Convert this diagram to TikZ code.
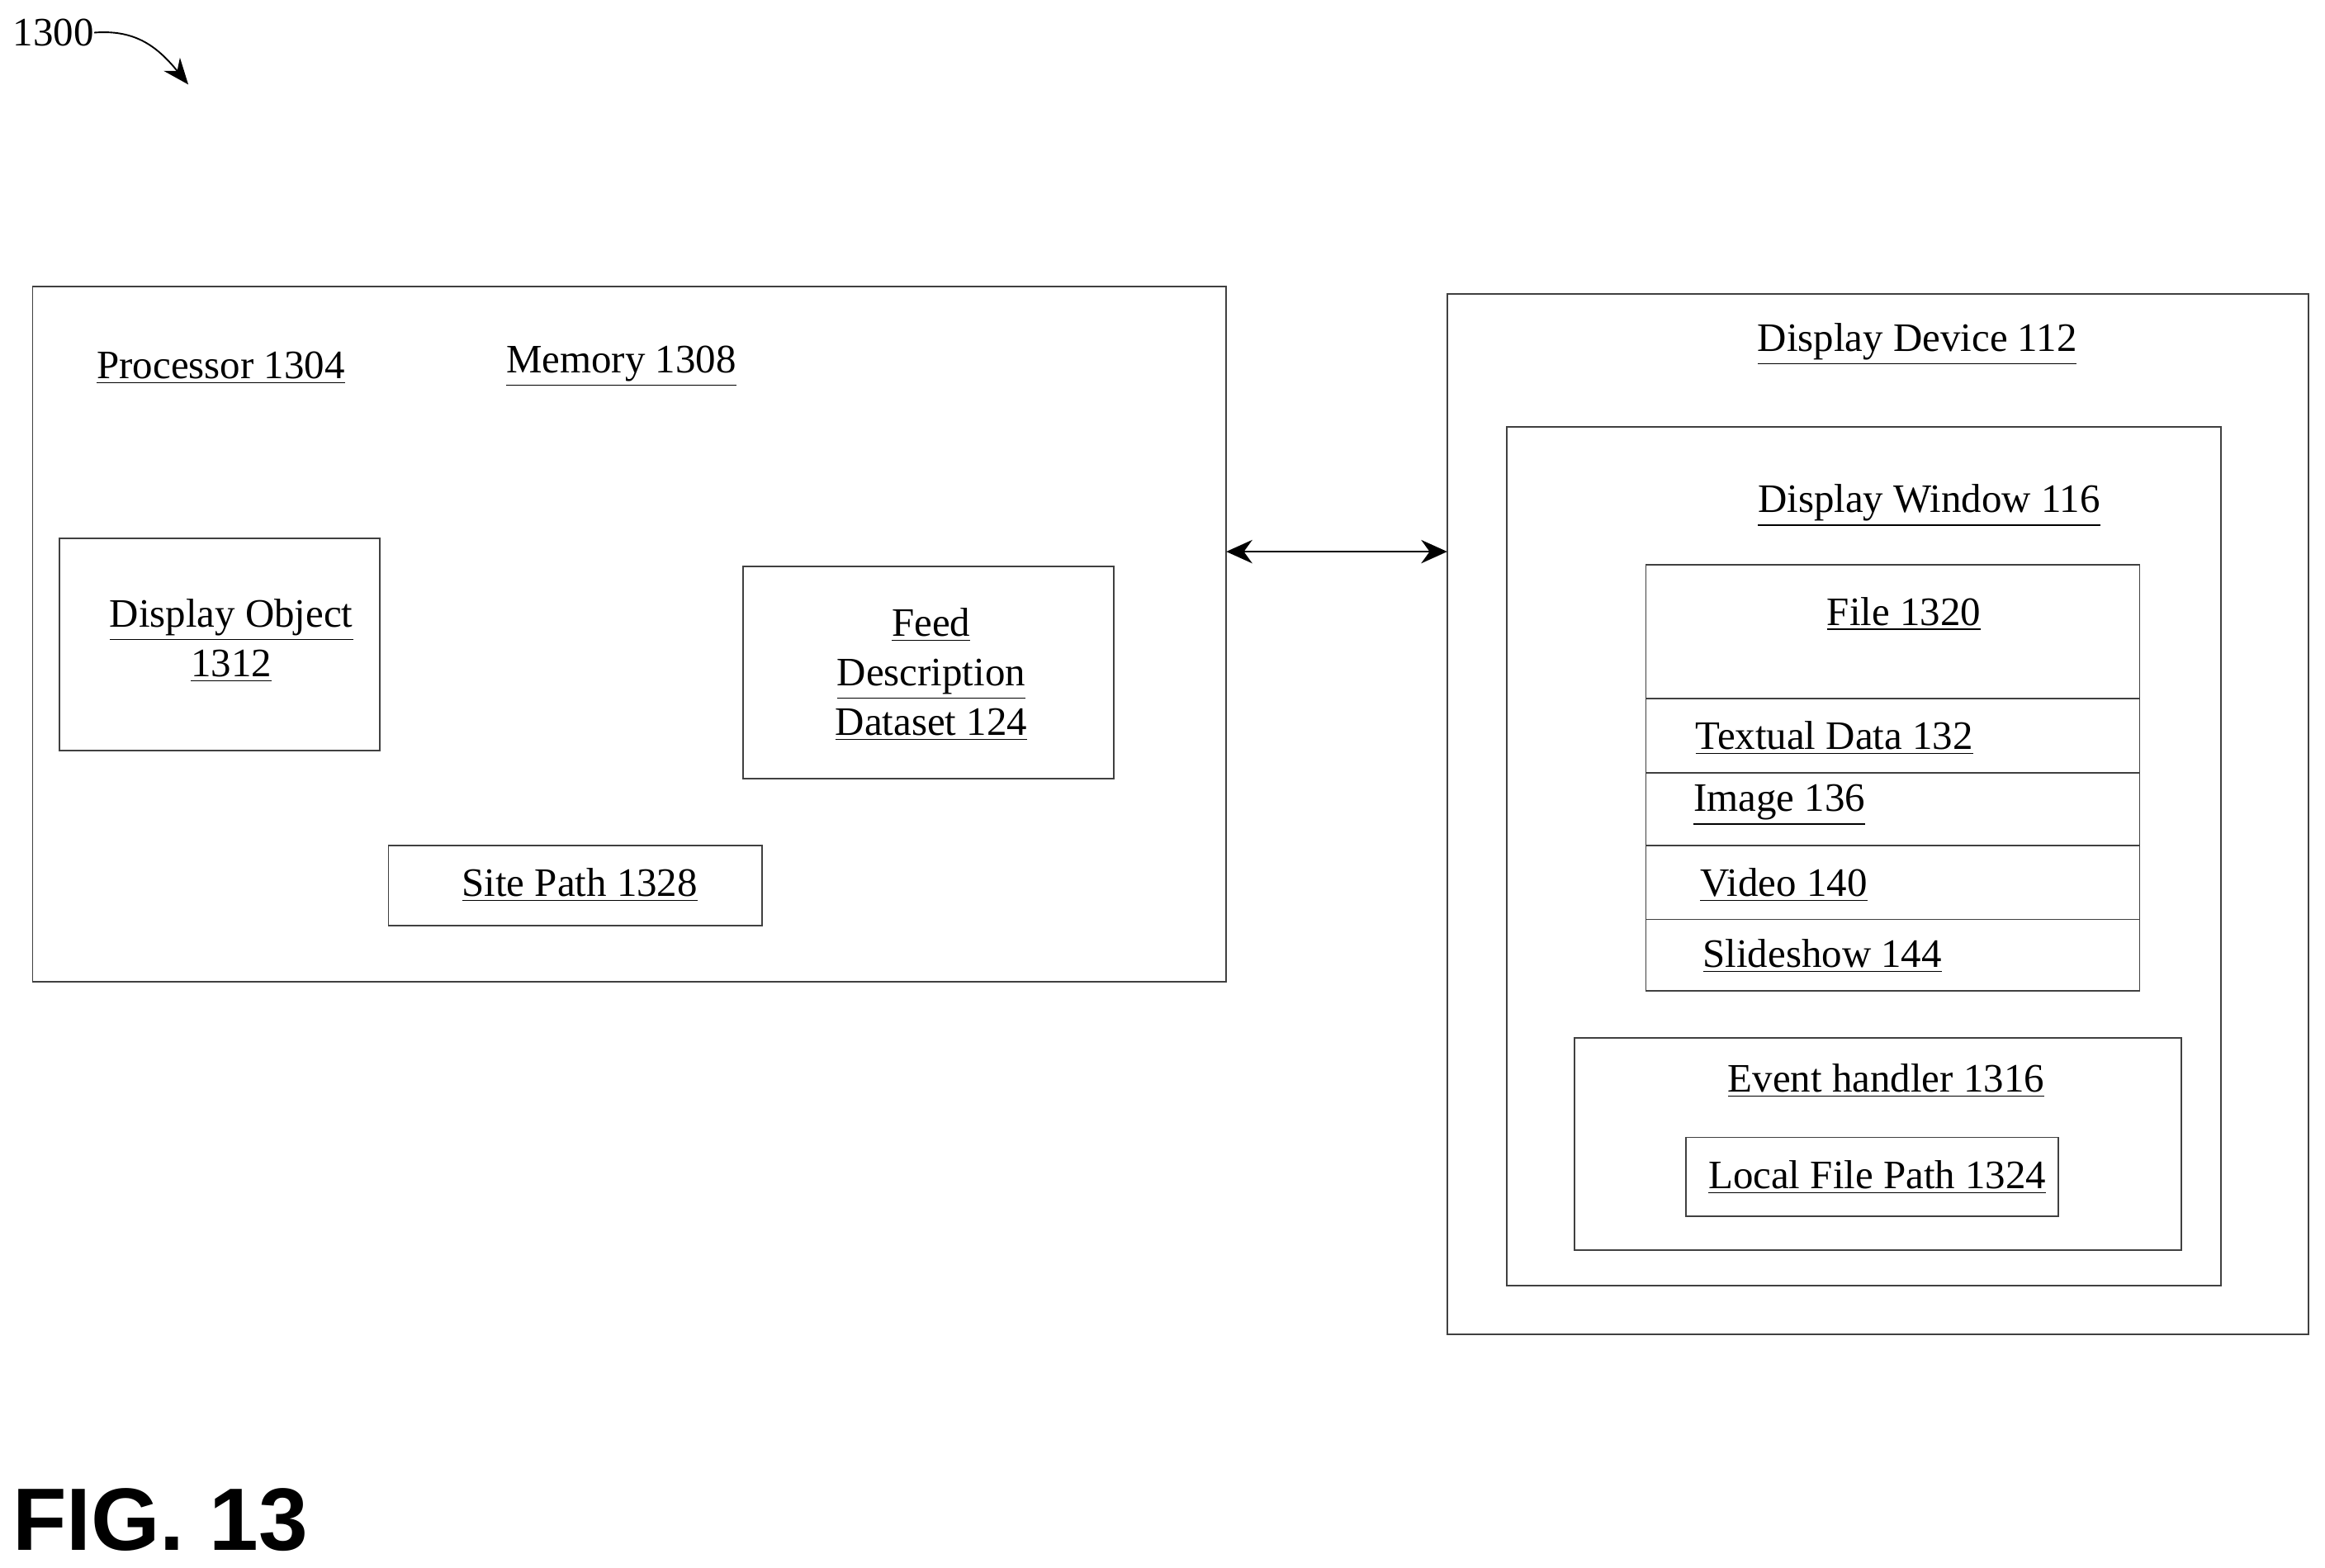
\documentclass[tikz,border=0pt]{standalone}
\usepackage{fontspec}
\setmainfont{Liberation Serif}
\newfontfamily\figfont{Liberation Sans}
\usetikzlibrary{arrows.meta}
\begin{document}
\begin{tikzpicture}[x=0.02cm,y=-0.02cm,
  box/.style={draw=black!75,line width=0.6pt},
  lbl/.style={font=\fontsize{15.5}{19}\selectfont,align=center,inner sep=0pt}]
\useasboundingbox (0,0) rectangle (1568,1057);
\node[lbl] (n1300) at (36,22) {1300};
\coordinate (a1300) at (127,57);
\draw[-{Stealth[length=10pt,width=8pt]},line width=0.6pt] (n1300.east) .. controls (90,20) and (105,30) .. (a1300);
% left
\draw[box] (22,193) rectangle (827,662);
\coordinate (L) at (827,372);
\node[lbl] (proc) at (149,248) {\underline{Processor 1304}};
\node[lbl] (mem) at (419,247) {\underline{Memory 1308}};
\draw[box] (40,363) rectangle (256,506);
\node[lbl] (dobj) at (156,432) {\underline{Display Object}\\\underline{1312}};
\draw[box] (501,382) rectangle (751,525);
\node[lbl] (feed) at (628,455) {\underline{Feed}\\\underline{Description}\\\underline{Dataset 124}};
\draw[box] (262,570) rectangle (514,624);
\node[lbl] (site) at (391,597) {\underline{Site Path 1328}};
% right
\draw[box] (976,198) rectangle (1557,900);
\coordinate (R) at (976,372);
\node[lbl] (dd) at (1293,232) {\underline{Display Device 112}};
\draw[box] (1016,288) rectangle (1498,867);
\node[lbl] (dw) at (1301,341) {\underline{Display Window 116}};
\draw[box] (1110,381) rectangle (1443,668);
\foreach \y in {471,521,570,620} \draw[box] (1110,\y) -- (1443,\y);
\node[lbl] (file) at (1284,414) {\underline{File 1320}};
\node[lbl] (td) at (1237,498) {\underline{Textual Data 132}};
\node[lbl] (img) at (1200,543) {\underline{Image 136}};
\node[lbl] (vid) at (1203,597) {\underline{Video 140}};
\node[lbl] (ss) at (1229,645) {\underline{Slideshow 144}};
\draw[box] (1062,700) rectangle (1471,843);
\node[lbl] (eh) at (1272,729) {\underline{Event handler 1316}};
\draw[box] (1137,767) rectangle (1388,820);
\node[lbl] (lfp) at (1266,794) {\underline{Local File Path 1324}};
\draw[{Stealth[length=10pt,width=9pt]}-{Stealth[length=10pt,width=9pt]},line width=0.5pt] (L) -- (R);
\node[font=\figfont\bfseries\fontsize{34}{36}\selectfont,inner sep=0pt] (fig) at (108,1025) {FIG. 13};
\end{tikzpicture}
\end{document}
